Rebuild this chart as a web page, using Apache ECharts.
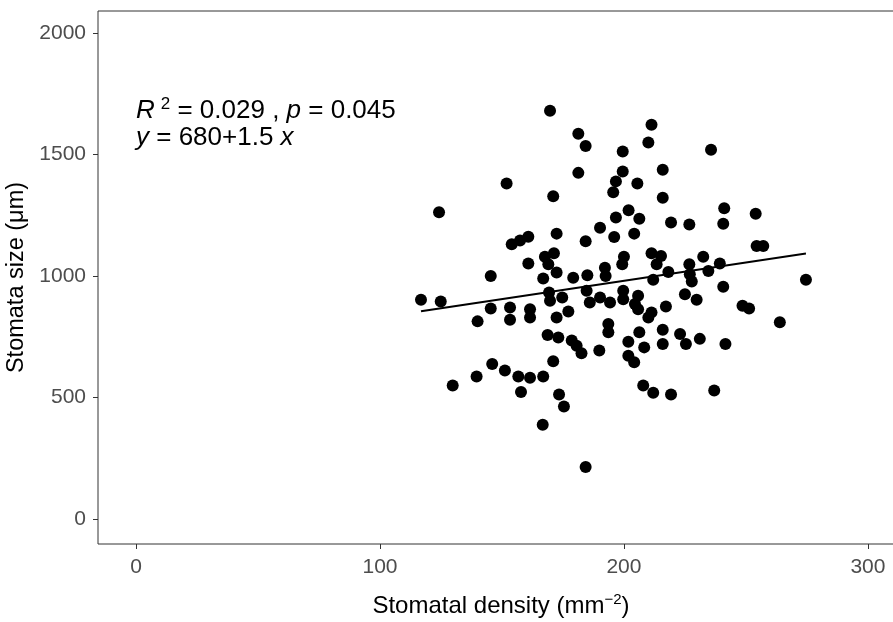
<!DOCTYPE html>
<html>
<head>
<meta charset="utf-8">
<style>
  html, body { margin: 0; height: 100%; background: #fff; }
  #chart { width: 893px; height: 622px; }
</style>
</head>
<body>
<div id="chart"></div>
<script src="https://cdn.jsdelivr.net/npm/echarts@6/dist/echarts.min.js"></script>
<script>
// stomatal density (mm^-2) and stomata size (um)
var density = [
  169.7, 181.3, 184.3, 199.5, 211.3, 210.0, 235.7, 181.3, 199.5, 215.9,
  151.9, 196.7, 205.5, 195.6, 171.0, 215.9, 124.2, 201.9, 196.7, 206.3,
  241.1, 240.7, 254.0, 219.3, 226.8, 190.2, 172.4, 196.0, 204.2, 184.3,
  160.8, 157.4, 154.0, 254.4, 257.1, 200.0, 199.3, 171.3, 167.6, 160.8,
  169.0, 211.3, 215.2, 213.4, 232.5, 226.8, 239.3, 145.4, 172.4, 166.9,
  179.2, 185.0, 192.2, 192.5, 218.2, 212.0, 227.0, 234.6, 227.8, 274.6,
  240.7, 116.8, 124.9, 140.0, 145.4, 153.3, 153.3, 161.5, 161.5, 169.3,
  169.7, 174.7, 172.4, 177.2, 184.7, 186.0, 190.2, 194.3, 199.7, 199.7,
  205.8, 205.8, 204.5, 193.6, 193.6, 206.3, 201.8, 208.3, 201.8, 204.2,
  168.7, 173.1, 178.6, 180.6, 182.6, 189.9, 171.0, 146.0, 151.2, 139.6,
  129.8, 156.7, 161.5, 166.9, 157.8, 173.4, 175.4, 166.7, 207.9, 184.3,
  225.0, 229.8, 217.2, 211.3, 210.0, 248.6, 251.3, 215.9, 215.9, 223.0,
  225.4, 231.1, 241.6, 263.9, 212.0, 219.3, 237.0
];
var size = [
  1680, 1585, 1535, 1512, 1622, 1549, 1519, 1424, 1430, 1437,
  1380, 1389, 1380, 1344, 1328, 1322, 1262, 1270, 1240, 1235,
  1278, 1215, 1256, 1220, 1212, 1198, 1174, 1160, 1174, 1143,
  1161, 1146, 1130, 1123, 1123, 1079, 1048, 1093, 1079, 1051,
  1048, 1093, 1082, 1048, 1079, 1048, 1051, 1000, 1014, 989,
  992, 1003, 1034, 1000, 1016, 984, 1007, 1020, 977, 984,
  955, 902, 895, 813, 866, 870, 820, 863, 829, 932,
  898, 911, 829, 854, 939, 891, 911, 891, 939, 904,
  918, 863, 884, 802, 768, 768, 729, 706, 672, 645,
  757, 747, 734, 713, 682, 693, 649, 638, 611, 586,
  549, 586, 581, 586, 522, 512, 463, 388, 549, 214,
  925, 902, 874, 850, 829, 877, 866, 779, 720, 761,
  720, 741, 720, 809, 519, 512, 529
];
// fitted line y = 680 + 1.5x, drawn over the data range
var fitX = [116.8, 274.6];
var fitY = [855, 1092];
var xTicks = [0, 100, 200, 300];
var yTicks = [0, 500, 1000, 1500, 2000];

var FONT = 'Liberation Sans, Arial, sans-serif';
var chart = echarts.init(document.getElementById('chart'));

var points = density.map(function (d, i) { return [d, size[i]]; });
var fit = fitX.map(function (d, i) { return [d, fitY[i]]; });

var noteRich = {
  n: { fontSize: 26, fontFamily: FONT, lineHeight: 30 },
  i: { fontSize: 26, fontFamily: FONT, fontStyle: 'italic', lineHeight: 30 },
  s: { fontSize: 17, fontFamily: FONT, lineHeight: 26, verticalAlign: 'top', padding: [0, 0, 0, 6] }
};
var plain = function (v) { return String(v); };

chart.setOption({
  animation: false,
  grid: {
    left: 98, top: 11, width: 806, height: 533,
    outerBoundsMode: 'none', containLabel: false,
    show: true, borderColor: '#333', borderWidth: 1, backgroundColor: '#fff'
  },
  xAxis: {
    type: 'value', min: -15.6, max: 314.8,
    splitLine: { show: false },
    axisLine: { show: false, onZero: false },
    axisTick: { show: true, length: 5, customValues: xTicks, lineStyle: { color: '#333' } },
    axisLabel: { customValues: xTicks, formatter: plain, color: '#4d4d4d', fontSize: 21, fontFamily: FONT, margin: 13 },
    name: 'Stomatal density (mm{s|\u22122})',
    nameLocation: 'middle', nameGap: 48,
    nameTextStyle: {
      color: '#000', fontSize: 24, fontFamily: FONT,
      rich: { s: { fontSize: 15, fontFamily: FONT, verticalAlign: 'top', lineHeight: 28 } }
    }
  },
  yAxis: {
    type: 'value', min: -103, max: 2090,
    splitLine: { show: false },
    axisLine: { show: false, onZero: false },
    axisTick: { show: true, length: 5, customValues: yTicks, lineStyle: { color: '#333' } },
    axisLabel: { customValues: yTicks, formatter: plain, color: '#4d4d4d', fontSize: 21, fontFamily: FONT, margin: 12 },
    name: 'Stomata size (\u03bcm)',
    nameLocation: 'middle', nameGap: 62,
    nameTextStyle: { color: '#000', fontSize: 23.5, fontFamily: FONT }
  },
  graphic: [
    {
      type: 'text', x: 136, y: 111,
      style: { text: '{i|R}{s|2}{n| = 0.029 , }{i|p}{n| = 0.045}', rich: noteRich, verticalAlign: 'middle' }
    },
    {
      type: 'text', x: 136, y: 138,
      style: { text: '{i|y}{n| = 680+1.5 }{i|x}', rich: noteRich, verticalAlign: 'middle' }
    }
  ],
  series: [
    {
      type: 'scatter', data: points, symbolSize: 12,
      itemStyle: { color: '#000', opacity: 1 }, z: 2
    },
    {
      type: 'line', data: fit, symbol: 'none',
      lineStyle: { color: '#000', width: 2 }, z: 3
    }
  ]
});
</script>
</body>
</html>
